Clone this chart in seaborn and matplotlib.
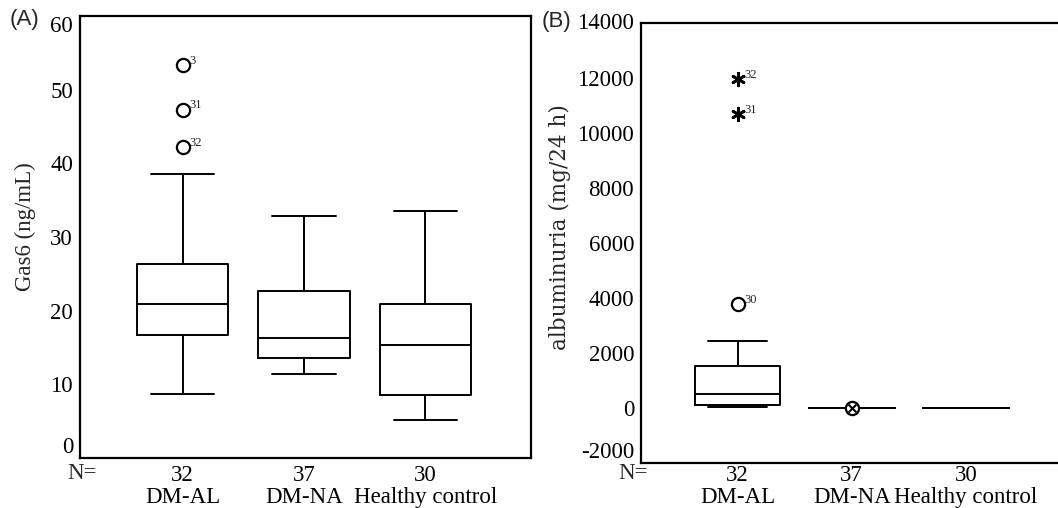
import matplotlib
matplotlib.use("Agg")
import matplotlib.pyplot as plt
import numpy as np
import pandas as pd
import seaborn as sns

# groups and counts
groups = ["DM-AL", "DM-NA", "Healthy control"]
counts = [32, 37, 30]

# panel A: Gas6 (ng/mL) five-number summaries
gas6_low = [8.7, 11.4, 5.2]
gas6_q1 = [16.7, 13.6, 8.5]
gas6_med = [20.85, 16.3, 15.3]
gas6_q3 = [26.3, 22.7, 20.85]
gas6_high = [38.6, 32.8, 33.5]
# outliers: group, value, case id, kind
gas6_out_group = ["DM-AL", "DM-AL", "DM-AL"]
gas6_out_val = [53.3, 47.3, 42.2]
gas6_out_id = ["3", "31", "32"]
gas6_out_kind = ["o", "o", "o"]

# panel B: albuminuria (mg/24 h)
alb_low = [20, 0, 0]
alb_q1 = [120, 0, 0]
alb_med = [500, 0, 0]
alb_q3 = [1520, 0, 0]
alb_high = [2450, 0, 0]
alb_out_group = ["DM-AL", "DM-AL", "DM-AL", "DM-NA", "DM-NA"]
alb_out_val = [3770, 11970, 10680, 10, 10]
alb_out_id = ["30", "32", "31", "", ""]
alb_out_kind = ["o", "*", "*", "o", "x"]

serif = "Liberation Serif"


def summary_table(low, q1, med, q3, high):
    # five values per group reproduce the box exactly (whiskers set to min/max)
    rows = []
    for g, vals in zip(groups, zip(low, q1, med, q3, high)):
        for v in vals:
            rows.append({"group": g, "value": v})
    return pd.DataFrame(rows)


def draw_panel(ax, df, out_group, out_val, out_id, out_kind, ylim, yticks,
               ylabel, label_font, label_xy, top_va, xpad, n_x, n_y):
    line = dict(color="black", linewidth=1.4)
    sns.boxplot(data=df, x="group", y="value", order=groups, ax=ax,
                whis=(0, 100), showfliers=False, width=0.75, fill=False,
                color="black", linewidth=1.4, capwidths=0.52,
                boxprops=line, medianprops=line, whiskerprops=line, capprops=line)
    out = pd.DataFrame({"group": out_group, "value": out_val,
                        "id": out_id, "kind": out_kind})
    circ = out[out["kind"] == "o"]
    sns.stripplot(data=circ, x="group", y="value", order=groups, ax=ax,
                  jitter=False, marker="o", size=9.5, color="white",
                  edgecolor="black", linewidth=1.6, zorder=5)
    star = out[out["kind"] == "*"]
    if len(star):
        sns.stripplot(data=star, x="group", y="value", order=groups, ax=ax,
                      jitter=False, marker=(6, 2, 0), size=9, color="black",
                      linewidth=2.0, edgecolor="black", zorder=5)
    cross = out[out["kind"] == "x"]
    if len(cross):
        sns.stripplot(data=cross, x="group", y="value", order=groups, ax=ax,
                      jitter=False, marker="x", size=5.5, color="black",
                      linewidth=1.5, zorder=6)
    for g, v, i in zip(out_group, out_val, out_id):
        if i:
            ax.annotate(i, xy=(groups.index(g), v), xytext=(5, 3),
                        textcoords="offset points", fontsize=9,
                        family=serif, va="center", ha="left")

    ax.set_ylim(*ylim)
    ax.set_yticks(yticks)
    ax.set_yticklabels([str(t) for t in yticks], family=serif, fontsize=16.5)
    labs = ax.get_yticklabels()
    labs[0].set_va("bottom")
    labs[-1].set_va(top_va)
    ax.set_xlim(-0.845, 2.87)
    ax.set_xticks(range(len(groups)))
    ax.set_xticklabels([f"{n}\n{g}" for n, g in zip(counts, groups)],
                       family=serif, fontsize=16.5, linespacing=1.05)
    ax.set_xlabel("")
    ax.set_ylabel(ylabel, family=label_font[0], fontsize=label_font[1])
    ax.yaxis.set_label_coords(*label_xy)
    ax.tick_params(axis="both", direction="out", length=4, width=1.3, pad=1,
                   colors="black")
    ax.tick_params(axis="x", pad=xpad)
    for s in ax.spines.values():
        s.set_visible(True)
        s.set_color("black")
        s.set_linewidth(1.6)
    ax.text(n_x, n_y, "N=", transform=ax.transAxes, ha="right", va="top",
            family=serif, fontsize=16.5)


sns.set_theme(style="white")
plt.rcParams["axes.unicode_minus"] = False

fig = plt.figure(figsize=(10.58, 5.08), dpi=100)
ax1 = fig.add_axes([0.0756, 0.0984, 0.4263, 0.870])
ax2 = fig.add_axes([0.6059, 0.0886, 0.401, 0.866])

draw_panel(ax1, summary_table(gas6_low, gas6_q1, gas6_med, gas6_q3, gas6_high),
           gas6_out_group, gas6_out_val, gas6_out_id, gas6_out_kind,
           (0, 60), list(range(0, 61, 10)), "Gas6 (ng/mL)", (serif, 16.5),
           (-0.097, 0.523), "top", 1, 0.038, -0.012)
draw_panel(ax2, summary_table(alb_low, alb_q1, alb_med, alb_q3, alb_high),
           alb_out_group, alb_out_val, alb_out_id, alb_out_kind,
           (-2000, 14000), list(range(-2000, 14001, 2000)), "albuminuria (mg/24 h)",
           ("DejaVu Serif", 15.5), (-0.165, 0.536), "center", -2.5, 0.0165, 0.0)

fig.text(0.009, 0.962, "(A)", family="Liberation Sans", fontsize=16,
         ha="left", va="center")
fig.text(0.512, 0.957, "(B)", family="Liberation Sans", fontsize=16,
         ha="left", va="center")

fig.savefig("out.png", dpi=100, facecolor="white")
